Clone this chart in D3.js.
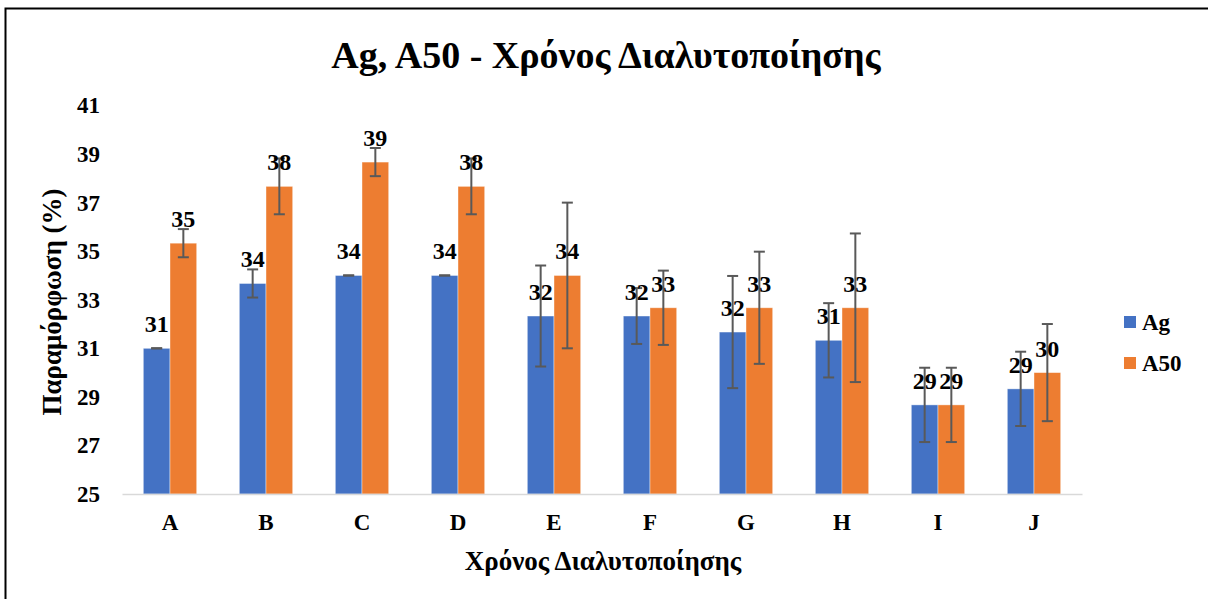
<!DOCTYPE html>
<html>
<head>
<meta charset="utf-8">
<script src="https://cdn.jsdelivr.net/npm/d3@7"></script>
<style>
  html, body { margin: 0; padding: 0; background: #fff; }
</style>
</head>
<body>
<svg id="chart" width="1208" height="599"></svg>
<script>
// ─── Data ────────────────────────────────────────────────────────────────────
const categories = ['A', 'B', 'C', 'D', 'E', 'F', 'G', 'H', 'I', 'J'];
const seriesNames = ['Ag', 'A50'];
const agValues  = [31.0, 33.67, 34.0, 34.0, 32.33, 32.33, 31.67, 31.33, 28.67, 29.33];
const a50Values = [35.33, 37.67, 38.67, 37.67, 34.0, 32.67, 32.67, 32.67, 28.67, 30.0];
const agErrors  = [0, 0.58, 0, 0, 2.08, 1.15, 2.31, 1.53, 1.53, 1.53];
const a50Errors = [0.58, 1.15, 0.58, 1.15, 3.0, 1.53, 2.31, 3.06, 1.53, 2.0];
const yTicks = [25, 27, 29, 31, 33, 35, 37, 39, 41];

const title  = 'Ag, A50 - Χρόνος Διαλυτοποίησης';
const xTitle = 'Χρόνος Διαλυτοποίησης';
const yTitle = 'Παραμόρφωση (%)';

const theme = {
  colors: ['#4472C4', '#ED7D31'],
  axis: '#d9d9d9',
  err: '#595959',
  text: '#000',
  font: "'Liberation Serif', 'Times New Roman', serif"
};

// ─── Layout ──────────────────────────────────────────────────────────────────
const svg = d3.select('#chart');
const plot = { left: 122, right: 1082, top: 105.5, bottom: 494 };

const x0 = d3.scaleBand()
  .domain(categories)
  .range([plot.left, plot.right])
  .paddingInner(0.444)
  .paddingOuter(0.222);

const x1 = d3.scaleBand()
  .domain(seriesNames)
  .range([0, x0.bandwidth()]);

const y = d3.scaleLinear()
  .domain([25, 41])
  .range([plot.bottom, plot.top]);

const rows = categories.map((c, i) => ({
  cat: c,
  items: [
    { name: 'Ag',  value: agValues[i],  err: agErrors[i] },
    { name: 'A50', value: a50Values[i], err: a50Errors[i] }
  ]
}));
const color = d3.scaleOrdinal().domain(seriesNames).range(theme.colors);

function txt(sel, size) {
  return sel.attr('font-family', theme.font)
    .attr('font-weight', 'bold')
    .attr('font-size', size)
    .attr('fill', theme.text);
}

// Outer border
svg.append('rect')
  .attr('x', 5.5).attr('y', 8.5)
  .attr('width', 1220).attr('height', 620)
  .attr('fill', 'none')
  .attr('stroke', '#000')
  .attr('stroke-width', 2);

// Title
svg.append('text')
  .attr('x', 606).attr('y', 68)
  .attr('text-anchor', 'middle')
  .call(txt, 38)
  .text(title);

// ─── Y axis (labels only) ────────────────────────────────────────────────────
svg.append('g')
  .attr('transform', `translate(${plot.left},0)`)
  .call(d3.axisLeft(y).tickValues(yTicks).tickSize(0).tickPadding(22).tickFormat(d3.format('d')))
  .call(sel => {
    sel.select('.domain').remove();
    sel.selectAll('text').call(txt, 23);
  });

// ─── Bars ────────────────────────────────────────────────────────────────────
const groups = svg.append('g').selectAll('g')
  .data(rows)
  .join('g')
  .attr('transform', d => `translate(${x0(d.cat)},0)`);

groups.selectAll('rect')
  .data(d => d.items)
  .join('rect')
  .attr('x', d => x1(d.name))
  .attr('y', d => y(d.value))
  .attr('width', x1.bandwidth())
  .attr('height', d => y(25) - y(d.value))
  .attr('fill', d => color(d.name))
  .attr('stroke', '#fff')
  .attr('stroke-opacity', 0.5)
  .attr('stroke-width', 0.8);

// Error bars
const cap = 5.5;
const eb = groups.selectAll('g.err')
  .data(d => d.items)
  .join('g')
  .attr('class', 'err')
  .attr('stroke', theme.err)
  .attr('stroke-width', 2);

eb.append('line')
  .attr('x1', d => x1(d.name) + x1.bandwidth() / 2)
  .attr('x2', d => x1(d.name) + x1.bandwidth() / 2)
  .attr('y1', d => y(d.value + d.err))
  .attr('y2', d => y(d.value - d.err));
eb.append('line')
  .attr('x1', d => x1(d.name) + x1.bandwidth() / 2 - cap)
  .attr('x2', d => x1(d.name) + x1.bandwidth() / 2 + cap)
  .attr('y1', d => y(d.value + d.err))
  .attr('y2', d => y(d.value + d.err));
eb.append('line')
  .attr('x1', d => x1(d.name) + x1.bandwidth() / 2 - cap)
  .attr('x2', d => x1(d.name) + x1.bandwidth() / 2 + cap)
  .attr('y1', d => y(d.value - d.err))
  .attr('y2', d => y(d.value - d.err));

// Data labels
groups.selectAll('text.lbl')
  .data(d => d.items)
  .join('text')
  .attr('class', 'lbl')
  .attr('x', d => x1(d.name) + x1.bandwidth() / 2)
  .attr('y', d => y(d.value) - 16)
  .attr('text-anchor', 'middle')
  .call(txt, 24)
  .text(d => Math.round(d.value));

// ─── X axis ──────────────────────────────────────────────────────────────────
svg.append('g')
  .attr('transform', `translate(0,${plot.bottom})`)
  .call(d3.axisBottom(x0).tickSize(0).tickPadding(20))
  .call(sel => {
    sel.select('.domain').attr('stroke', theme.axis).attr('stroke-width', 1.5);
    sel.selectAll('text').call(txt, 23);
  });

// Axis titles
svg.append('text')
  .attr('x', 603).attr('y', 570)
  .attr('text-anchor', 'middle')
  .call(txt, 27)
  .text(xTitle);

svg.append('text')
  .attr('transform', 'translate(61,302) rotate(-90)')
  .attr('text-anchor', 'middle')
  .call(txt, 27)
  .text(yTitle);

// ─── Legend ──────────────────────────────────────────────────────────────────
const legend = svg.append('g').selectAll('g')
  .data(seriesNames)
  .join('g')
  .attr('transform', (d, i) => `translate(1124,${322 + i * 41})`);

legend.append('rect')
  .attr('x', 0).attr('y', -6)
  .attr('width', 12).attr('height', 12)
  .attr('fill', d => color(d));

legend.append('text')
  .attr('x', 18).attr('y', 8)
  .call(txt, 23)
  .text(d => d);
</script>
</body>
</html>
